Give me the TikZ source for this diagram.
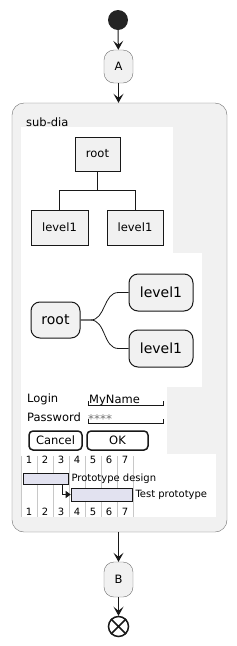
\documentclass[tikz,border=0pt]{standalone}
\usepackage{fontspec}
\setmainfont{DejaVu Sans}
\usetikzlibrary{arrows.meta,positioning,calc}
\definecolor{boxfill}{HTML}{F1F1F1}
\definecolor{boxline}{HTML}{181818}
\definecolor{framegray}{HTML}{6E6E6E}
\definecolor{barfill}{HTML}{E2E2F0}
\definecolor{gridgray}{HTML}{C8C8C8}
\newcommand{\fs}[1]{\fontsize{#1}{#1}\selectfont}

\begin{document}
\begin{tikzpicture}[x=1pt,y=-1pt,
  flow/.style={boxline,line width=1pt,-{Stealth[length=9pt,width=10pt,inset=4pt]}},
  actbox/.style={draw=framegray,fill=boxfill,rounded corners=10pt,inner sep=0pt,
    minimum width=29pt,minimum height=33pt,font=\fs{11.5}},
  treebox/.style={draw=boxline,fill=boxfill,line width=1pt,inner sep=0pt,
    minimum height=34pt,font=\fs{11.5}},
  mindbox/.style={draw=boxline,fill=boxfill,line width=1pt,inner sep=0pt,
    rounded corners=9pt,minimum height=36pt,font=\fs{14}},
  btn/.style={draw=boxline,line width=1.5pt,rounded corners=4pt,inner sep=0pt,
    minimum height=19pt,font=\fs{11.5}},
  bar/.style={draw=boxline,fill=barfill,line width=0.6pt,inner sep=0pt},
  txt/.style={anchor=base west,inner sep=0pt,font=\fs{11.5}},
  gnum/.style={inner sep=0pt,anchor=base,font=\fs{10}}
]
  \useasboundingbox (0,0) rectangle (236,646);

  % flow
  \node[circle,fill=boxline!95!white,minimum size=20pt,inner sep=0pt] (start) at (118,20) {};
  \node[actbox] (A) at (118.5,66.5) {A};
  \node[draw=framegray,fill=boxfill,rounded corners=12pt,inner sep=0pt,
        minimum width=215pt,minimum height=429pt] (subdia) at (119.5,317.5) {};
  \node[txt] (subtitle) at (26,126) {sub-dia};
  \node[actbox,minimum height=35pt] (B) at (118.5,579.5) {B};
  \node[circle,draw=boxline,line width=1.5pt,minimum size=20pt,inner sep=0pt] (stop) at (118.5,626.5) {};
  \draw[boxline,line width=1.5pt] (stop.45) -- (stop.225) (stop.135) -- (stop.315);
  \draw[flow] (start) -- (A);
  \draw[flow] (A) -- (A |- subdia.north);
  \draw[flow] (subdia.south -| B) -- (B);
  \draw[flow] (B) -- (stop);

  % white panels
  \fill[white] (21,127) rectangle (173,253);
  \fill[white] (21,253) rectangle (202,387);
  \fill[white] (21,387) rectangle (167,454);
  \fill[white] (21,454) rectangle (216,517);

  % tree
  \node[treebox,minimum width=45pt] (troot) at (97.5,154) {root};
  \node[treebox,minimum width=57pt,minimum height=35pt] (tleft) at (59.5,227.5) {level1};
  \node[treebox,minimum width=56pt,minimum height=35pt] (tright) at (135,227.5) {level1};
  \coordinate (tfork) at (97.5,190);
  \draw[boxline,line width=1pt] (troot) -- (tfork) -| (tleft.north);
  \draw[boxline,line width=1pt] (tfork) -| (tright.north);

  % mindmap
  \node[mindbox,minimum width=49pt] (mroot) at (55.5,320) {root};
  \node[mindbox,minimum width=64pt,minimum height=37pt] (mtop) at (161,292.5) {level1};
  \node[mindbox,minimum width=64pt,minimum height=37pt] (mbot) at (161,348.5) {level1};
  \draw[boxline,line width=0.8pt] (mroot.east) -- ++(10,0)
    to[out=0,in=180] ($(mtop.west)+(-10,0)$) -- (mtop.west);
  \draw[boxline,line width=0.8pt] (mroot.east) -- ++(10,0)
    to[out=0,in=180] ($(mbot.west)+(-10,0)$) -- (mbot.west);

  % salt form
  \node[txt] (login) at (27,402) {Login};
  \node[txt] (loginval) at (89,403) {MyName};
  \draw[boxline,line width=0.8pt] (88,401) -- (88,405) -- (163,405) -- (163,401);
  \node[txt] (pwd) at (27,421) {Password};
  \node[txt,font=\fs{12},text=black!55] (pwdval) at (88,423.5) {****};
  \draw[boxline,line width=0.8pt] (88,419) -- (88,423) -- (163,423) -- (163,419);
  \node[btn,minimum width=53pt] (cancel) at (55.5,440.5) {Cancel};
  \node[btn,minimum width=61pt] (ok) at (117.5,440.5) {OK};

  % gantt
  \foreach \k in {0,...,7}
    \draw[gridgray,line width=0.6pt] (21+16*\k,456) -- (21+16*\k,517);
  \foreach \k in {1,...,7} {
    \node[gnum,fill=white] (top\k) at (13+16*\k,463) {\k};
    \node[gnum,fill=white] (bot\k) at (13+16*\k,515) {\k};
  }
  \node[bar,minimum width=45pt,minimum height=11pt] (design) at (45.5,478.5) {};
  \node[bar,minimum width=61pt,minimum height=13pt] (test) at (101.5,494.5) {};
  \node[anchor=west,inner sep=0pt,font=\fs{10}] (designlbl) at ($(design.east)+(3,0)$) {Prototype design};
  \node[anchor=west,inner sep=0pt,font=\fs{10}] (testlbl) at ($(test.east)+(3,0)$) {Test prototype};
  \draw[boxline,line width=0.8pt,-{Triangle[length=5pt,width=7pt]}]
    ($(design.south east)+(-6,0)$) |- (test.west);
\end{tikzpicture}
\end{document}
